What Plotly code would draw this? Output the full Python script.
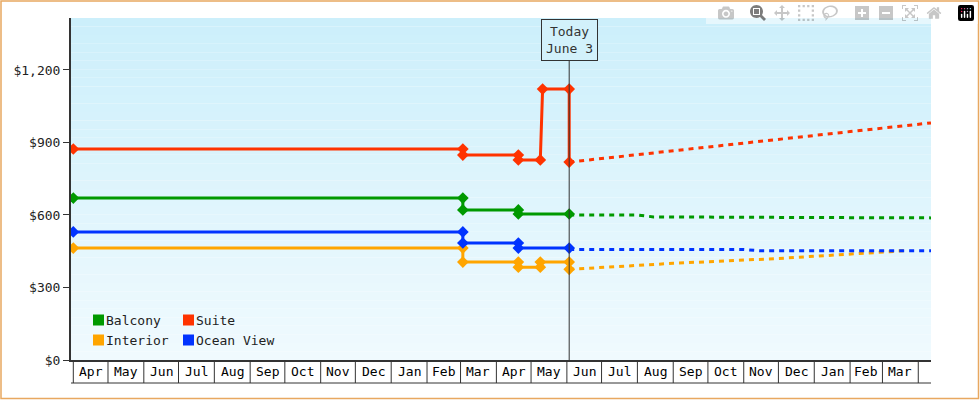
import plotly.graph_objects as go
import pandas as pd

# ---- data ----
months = ["Apr","May","Jun","Jul","Aug","Sep","Oct","Nov","Dec","Jan","Feb","Mar",
          "Apr","May","Jun","Jul","Aug","Sep","Oct","Nov","Dec","Jan","Feb","Mar"]
month_starts = pd.date_range("2023-04-01", "2025-04-01", freq="MS")

suite_dates = ["2023-04-01","2024-03-03","2024-03-03","2024-04-20","2024-04-20","2024-05-09","2024-05-11","2024-06-03","2024-06-03"]
suite_vals = [873, 873, 848, 848, 828, 828, 1121, 1121, 819]
balcony_dates = ["2023-04-01","2024-03-03","2024-03-03","2024-04-20","2024-04-20","2024-06-03"]
balcony_vals = [670, 670, 621, 621, 604, 604]
ocean_dates = ["2023-04-01","2024-03-03","2024-03-03","2024-04-20","2024-04-20","2024-06-03"]
ocean_vals = [530, 530, 484, 484, 463, 463]
interior_dates = ["2023-04-01","2024-03-03","2024-03-03","2024-04-20","2024-04-20","2024-05-09","2024-05-09","2024-06-03","2024-06-03"]
interior_vals = [463, 463, 405, 405, 384, 384, 405, 405, 375]

suite_fc_dates = ["2024-06-03","2024-08-01","2024-10-01","2024-12-01","2025-02-01","2025-04-12"]
suite_fc_vals = [819, 850, 882, 915, 945, 981]
balcony_fc_dates = ["2024-06-03","2024-08-01","2024-08-15","2025-01-15","2025-02-01","2025-04-12"]
balcony_fc_vals = [600, 600, 592, 592, 589, 588]
ocean_fc_dates = ["2024-06-03","2024-11-01","2024-11-15","2025-04-12"]
ocean_fc_vals = [457, 457, 452, 452]
interior_fc_dates = ["2024-06-03","2024-09-01","2024-12-01","2025-02-01","2025-03-20"]
interior_fc_vals = [375, 400, 420, 438, 452]

colors = {"Balcony": "#009900", "Suite": "#ff3300", "Interior": "#ffa500", "Ocean View": "#0033ff"}
today = "2024-06-03"

W, H = 980, 400
L, R, T, B = 71, 49, 18, 40
pw, ph = W - L - R, H - T - B
FONT = "DejaVu Sans Mono"

fig = go.Figure()
series = [
    ("Interior", interior_dates, interior_vals, interior_fc_dates, interior_fc_vals),
    ("Ocean View", ocean_dates, ocean_vals, ocean_fc_dates, ocean_fc_vals),
    ("Balcony", balcony_dates, balcony_vals, balcony_fc_dates, balcony_fc_vals),
    ("Suite", suite_dates, suite_vals, suite_fc_dates, suite_fc_vals),
]
for name, d, v, fd, fv in series:
    c = colors[name]
    fig.add_trace(go.Scatter(x=fd, y=fv, mode="lines", line=dict(color=c, width=3, dash="5px,5px"),
                             showlegend=False, hoverinfo="skip"))
    fig.add_trace(go.Scatter(x=d, y=v, mode="lines+markers", name=name,
                             line=dict(color=c, width=3),
                             marker=dict(symbol="diamond", size=9, color=c), showlegend=False))

shapes = []
n = 40
top_c, bot_c = (204, 239, 251), (240, 250, 254)
for i in range(n):
    f = i / (n - 1)
    col = tuple(round(top_c[k] + (bot_c[k] - top_c[k]) * f) for k in range(3))
    shapes.append(dict(type="rect", xref="paper", yref="paper", x0=0, x1=1,
                       y0=1 - (i + 1) / n, y1=1 - i / n, fillcolor="rgb(%d,%d,%d)" % col,
                       line=dict(width=0), layer="below"))
shapes.append(dict(type="rect", xref="paper", yref="paper",
                   x0=-(L - 1) / pw, x1=1 + (R - 1.5) / pw, y0=-(B - 1.5) / ph, y1=1 + (T - 1) / ph,
                   line=dict(color="#e8a860", width=1.5), fillcolor="rgba(0,0,0,0)"))
box_h = 23 / ph
for ms in month_starts:
    shapes.append(dict(type="line", xref="x", yref="paper", x0=ms, x1=ms, y0=0, y1=-box_h,
                       line=dict(color="#333", width=1)))
shapes.append(dict(type="line", xref="paper", yref="paper", x0=0, x1=1, y0=-box_h, y1=-box_h,
                   line=dict(color="#333", width=1)))
shapes.append(dict(type="line", xref="x", yref="paper", x0=today, x1=today, y0=0, y1=(360 - 60) / ph,
                   line=dict(color="#333", width=1)))

annotations = []
for i, m in enumerate(months):
    mid = month_starts[i] + (month_starts[i + 1] - month_starts[i]) / 2
    annotations.append(dict(x=mid, y=-11.5 / ph, xref="x", yref="paper", text=m, showarrow=False,
                            xanchor="center", yanchor="middle",
                            font=dict(family=FONT, size=13, color="#000")))
annotations.append(dict(x=today, y=(360 - 40) / ph, xref="x", yref="paper", text="Today<br>June 3",
                        showarrow=False, xanchor="center", yanchor="middle",
                        bordercolor="#333", borderwidth=1, borderpad=4,
                        bgcolor="#d2f1fb", font=dict(family=FONT, size=13, color="#333")))
leg = [("Balcony", 93, 320), ("Suite", 183, 320), ("Interior", 93, 340), ("Ocean View", 183, 340)]
for name, px, py in leg:
    shapes.append(dict(type="rect", xref="paper", yref="paper",
                       x0=(px - L) / pw, x1=(px + 11 - L) / pw,
                       y0=(360 - py - 5.5) / ph, y1=(360 - py + 5.5) / ph,
                       fillcolor=colors[name], line=dict(width=0)))
    annotations.append(dict(x=(px + 11 - L) / pw, y=(360 - py) / ph, xref="paper", yref="paper",
                            text=name, showarrow=False, xanchor="left", yanchor="middle",
                            font=dict(family=FONT, size=13, color="#222")))

fig.update_layout(
    width=W, height=H, margin=dict(l=L, r=R, t=T, b=B),
    paper_bgcolor="white", plot_bgcolor="rgba(0,0,0,0)",
    font=dict(family=FONT, size=13, color="#222"),
    shapes=shapes, annotations=annotations, showlegend=False,
    xaxis=dict(range=["2023-03-30", "2025-04-12"], showgrid=False, showticklabels=False,
               zeroline=False, showline=True, linecolor="#333", linewidth=2, ticks=""),
    yaxis=dict(range=[0, 1415], tickvals=[0, 300, 600, 900, 1200], tickformat="$,.0f",
               showgrid=False, zeroline=False, showline=True, linecolor="#333", linewidth=2,
               ticks="outside", ticklen=6, tickcolor="#333"),
)
fig.write_html("out.html", post_script="document.body.style.margin='0';document.body.style.overflow='hidden';")
